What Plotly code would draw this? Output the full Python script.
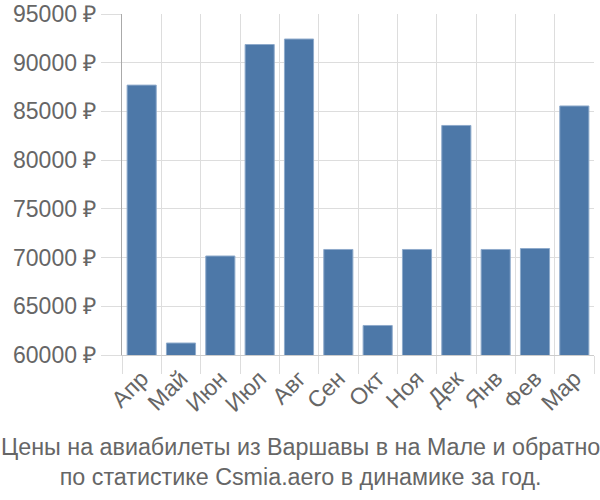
import plotly.graph_objects as go

months = ["Апр", "Май", "Июн", "Июл", "Авг", "Сен", "Окт", "Ноя", "Дек", "Янв", "Фев", "Мар"]
prices = [87700, 61230, 70160, 91870, 92430, 70830, 63030, 70830, 83560, 70830, 70930, 85560]
y_ticks = [60000, 65000, 70000, 75000, 80000, 85000, 90000, 95000]
title_lines = ["Цены на авиабилеты из Варшавы в на Мале и обратно",
               "по статистике Csmia.aero в динамике за год."]

font = "Liberation Sans, Arial, sans-serif"
fs = 23
fig = go.Figure(go.Bar(
    x=months, y=prices,
    marker=dict(color="#4d78a8", line=dict(color="#8eaacb", width=1)),
    width=0.74,
))
fig.update_layout(
    width=600, height=500,
    margin=dict(l=122, r=6, t=14, b=145, autoexpand=False),
    plot_bgcolor="white", paper_bgcolor="white",
    showlegend=False,
    font=dict(family=font, size=fs, color="#666666"),
    annotations=[dict(
        text="<br>".join(title_lines), x=(300 - 122) / 472, xref="paper", xanchor="center",
        y=-0.314, yref="paper", yanchor="middle",
        showarrow=False, font=dict(family=font, size=23.3, color="#666666"),
        align="center",
    )],
)
fig.update_xaxes(
    tickson="boundaries", showgrid=True, gridcolor="#dddddd", gridwidth=1,
    ticks="outside", ticklen=18, tickcolor="#dddddd",
    tickangle=-45, showline=True, linecolor="#cccccc", automargin=False,
    tickfont=dict(family=font, size=fs, color="#666666"),
)
fig.update_yaxes(
    range=[60000, 95000], tickvals=y_ticks, ticktext=[f"{v} ₽" for v in y_ticks],
    showgrid=True, gridcolor="#dddddd", ticks="outside", ticklen=20, tickcolor="#dddddd",
    showline=True, linecolor="#aaaaaa", zeroline=False, automargin=False,
    tickfont=dict(family=font, size=fs, color="#666666"),
)
fig.write_html("out.html")
